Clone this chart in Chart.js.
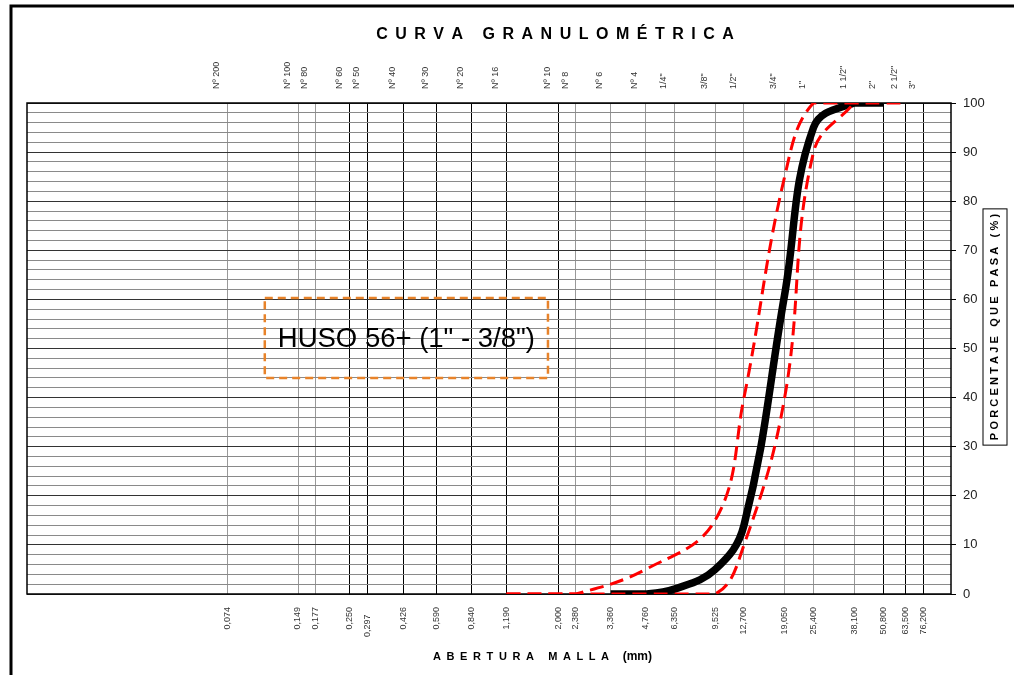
<!DOCTYPE html>
<html>
<head>
<meta charset="utf-8">
<script src="https://cdn.jsdelivr.net/npm/chart.js@4.4.1/dist/chart.umd.min.js"></script>
<style>
  html, body { margin: 0; padding: 0; background: #fff; }
  #wrap { width: 1014px; height: 675px; }
</style>
</head>
<body>
<div id="wrap"><canvas id="curva" width="1014" height="675"></canvas></div>
<script>
// sieve openings (mm), names on top, labels at the bottom
const sieveMm = [0.074, 0.149, 0.177, 0.250, 0.297, 0.426, 0.590, 0.840, 1.190, 2.000, 2.380, 3.360, 4.760, 6.350, 9.525, 12.700, 19.050, 25.400, 38.100, 50.800, 63.500, 76.200];
const sieveNames = ['Nº 200', 'Nº 100', 'Nº 80', 'Nº 60', 'Nº 50', 'Nº 40', 'Nº 30', 'Nº 20', 'Nº 16', 'Nº 10', 'Nº 8', 'Nº 6', 'Nº 4', '1/4"', '3/8"', '1/2"', '3/4"', '1"', '1 1/2"', '2"', '2 1/2"', '3"'];
const mmLabels = ['0,074', '0,149', '0,177', '0,250', '0,297', '0,426', '0,590', '0,840', '1,190', '2,000', '2,380', '3,360', '4,760', '6,350', '9,525', '12,700', '19,050', '25,400', '38,100', '50,800', '63,500', '76,200'];
// sieves that get a dark grid line
const darkSieves = [0.250, 0.297, 0.426, 0.590, 0.840, 1.190, 2.000, 50.800, 63.500, 76.200];

// sample (% que pasa)
const sampleMm = [3.360, 4.760, 6.350, 9.525, 12.700, 19.050, 25.400, 38.100, 50.800];
const samplePass = [0, 0, 1, 5, 14, 61, 95, 100, 100];

// huso 56 limits
const upperMm = [1.190, 2.000, 2.380, 4.760, 9.525, 12.700, 19.050, 25.400, 38.100, 50.800, 63.500];
const upperPass = [0, 0, 0, 5, 15, 40, 85, 100, 100, 100, 100];
const lowerMm = [1.190, 2.380, 4.760, 9.525, 12.700, 19.050, 25.400, 38.100];
const lowerPass = [0, 0, 0, 0, 10, 40, 90, 100];

// text box in data units (mm range, % range)
const husoText = 'HUSO 56+ (1" - 3/8")';
const husoBoxMm = [0.107, 1.8];
const husoBoxPct = [44, 60.3];

const FONT = '"Liberation Sans", Arial, sans-serif';

function pts(xs, ys) {
    return xs.map((x, i) => ({ x: x, y: ys[i] }));
}

// text drawn char by char with extra spacing
function spacedWidth(ctx, text, spacing) {
    let w = 0;
    for (const ch of text) w += ctx.measureText(ch).width + spacing;
    return w - spacing;
}
function spacedText(ctx, text, x, y, spacing) {
    for (const ch of text) {
        ctx.fillText(ch, x, y);
        x += ctx.measureText(ch).width + spacing;
    }
    return x;
}

const decor = {
    id: 'decor',
    beforeDatasetsDraw(chart) {
        const { ctx, chartArea: a } = chart;
        ctx.save();
        ctx.strokeStyle = '#000';
        ctx.lineWidth = 1.5;
        ctx.strokeRect(a.left, a.top, a.right - a.left, a.bottom - a.top);
        ctx.restore();
    },
    afterDraw(chart) {
        const { ctx, scales } = chart;
        ctx.save();

        // outer frame
        ctx.strokeStyle = '#000';
        ctx.lineWidth = 3;
        ctx.beginPath();
        ctx.moveTo(11, 675);
        ctx.lineTo(11, 6);
        ctx.lineTo(1014, 6);
        ctx.stroke();

        ctx.fillStyle = '#000';
        ctx.textBaseline = 'middle';
        ctx.textAlign = 'left';

        // title
        ctx.font = 'bold 16px ' + FONT;
        const title = 'CURVA GRANULOMÉTRICA';
        const tw = spacedWidth(ctx, title, 7.5);
        spacedText(ctx, title, 555 - tw / 2, 35, 7.5);

        // x axis title
        ctx.font = 'bold 11px ' + FONT;
        let x = spacedText(ctx, 'ABERTURA MALLA', 433, 657, 5.6);
        ctx.font = 'bold 12px ' + FONT;
        ctx.fillText('(mm)', x + 8, 657);

        // y axis title, boxed
        ctx.font = 'bold 11px ' + FONT;
        const yt = 'PORCENTAJE QUE PASA (%)';
        const yw = spacedWidth(ctx, yt, 3.2);
        ctx.translate(995, 327);
        ctx.rotate(-Math.PI / 2);
        spacedText(ctx, yt, -yw / 2, 0, 3.2);
        ctx.lineWidth = 1;
        ctx.strokeRect(-yw / 2 - 5, -12, yw + 10, 24);
        ctx.setTransform(1, 0, 0, 1, 0, 0);

        // huso box
        const x0 = scales.x.getPixelForValue(husoBoxMm[0]);
        const x1 = scales.x.getPixelForValue(husoBoxMm[1]);
        const y0 = scales.y.getPixelForValue(husoBoxPct[1]);
        const y1 = scales.y.getPixelForValue(husoBoxPct[0]);
        ctx.strokeStyle = '#E8832A';
        ctx.lineWidth = 2.5;
        ctx.setLineDash([8, 5]);
        ctx.strokeRect(x0, y0, x1 - x0, y1 - y0);
        ctx.setLineDash([]);
        ctx.fillStyle = '#000';
        ctx.font = '27.5px ' + FONT;
        ctx.fillText(husoText, x0 + 13, (y0 + y1) / 2 + 1);

        ctx.restore();
    }
};

new Chart(document.getElementById('curva'), {
    type: 'line',
    data: {
        // first dataset is drawn on top: red limits over the black curve
        datasets: [
            {
                label: 'Límite superior',
                data: pts(upperMm, upperPass),
                borderColor: '#ff0000',
                borderWidth: 3,
                borderDash: [14, 7],
                tension: 0.4
            },
            {
                label: 'Límite inferior',
                data: pts(lowerMm, lowerPass),
                borderColor: '#ff0000',
                borderWidth: 3,
                borderDash: [14, 7],
                tension: 0.4
            },
            {
                label: 'Muestra',
                data: pts(sampleMm, samplePass),
                borderColor: '#000',
                borderWidth: 7.5,
                tension: 0.4
            }
        ]
    },
    options: {
        responsive: false,
        animation: false,
        devicePixelRatio: 1,
        layout: { padding: { left: 27, right: 0, top: 0, bottom: 0 } },
        elements: { point: { radius: 0 } },
        plugins: {
            legend: { display: false },
            tooltip: { enabled: false }
        },
        scales: {
            x: {
                type: 'logarithmic',
                position: 'bottom',
                min: 0.01,
                max: 100,
                afterBuildTicks: s => { s.ticks = sieveMm.map(v => ({ value: v })); },
                afterFit: s => { s.height = 81; },
                ticks: {
                    autoSkip: false,
                    minRotation: 90,
                    maxRotation: 90,
                    padding: 13,
                    color: '#333',
                    font: { family: FONT, size: 9 },
                    // 0,297 sits a little lower so it does not clash with 0,250
                    callback: (v, i) => i === 4 ? mmLabels[i] + '   ' : mmLabels[i]
                },
                grid: {
                    drawTicks: false,
                    lineWidth: 1,
                    color: c => darkSieves.includes(c.tick.value) ? '#000' : '#999'
                },
                border: { display: false }
            },
            xTop: {
                type: 'logarithmic',
                position: 'top',
                min: 0.01,
                max: 100,
                afterBuildTicks: s => { s.ticks = sieveMm.map(v => ({ value: v })); },
                afterFit: s => { s.height = 103; },
                ticks: {
                    autoSkip: false,
                    minRotation: 90,
                    maxRotation: 90,
                    padding: 14,
                    color: '#333',
                    font: { family: FONT, size: 9 },
                    callback: (v, i) => sieveNames[i]
                },
                grid: { display: false, drawTicks: false },
                border: { display: false }
            },
            y: {
                type: 'linear',
                position: 'right',
                min: 0,
                max: 100,
                afterFit: s => { s.width = 63; },
                ticks: {
                    stepSize: 2,
                    maxTicksLimit: 60,
                    autoSkip: false,
                    padding: 7,
                    color: '#222',
                    font: { family: FONT, size: 13 },
                    callback: v => v % 10 === 0 ? v : ''
                },
                grid: {
                    lineWidth: 1,
                    tickLength: 5,
                    color: c => c.tick.value % 10 === 0 ? '#333' : '#8a8a8a',
                    tickColor: c => c.tick.value % 10 === 0 ? '#000' : 'rgba(0,0,0,0)'
                },
                border: { display: false }
            }
        }
    },
    plugins: [decor]
});
</script>
</body>
</html>
